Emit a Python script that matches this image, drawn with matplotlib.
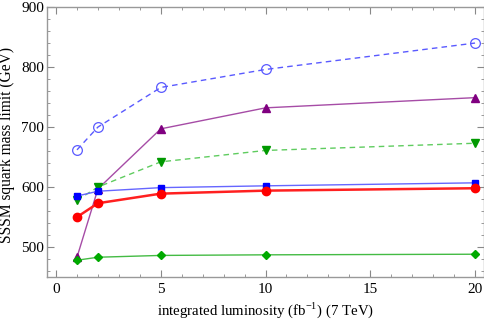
import numpy as np
import matplotlib
matplotlib.use('Agg')
import matplotlib.pyplot as plt
from matplotlib.ticker import MultipleLocator

plt.rcParams['font.family'] = ['Liberation Serif', 'DejaVu Serif']
plt.rcParams['mathtext.fontset'] = 'custom'
plt.rcParams['mathtext.rm'] = 'Liberation Serif'

lumi = [1, 2, 5, 10, 20]
blue_open = [662, 700, 766, 796, 840]
purple_tri = [483, 597, 697, 732, 749]
green_down = [578, 600, 642, 661, 673]
blue_sq = [585, 593, 599, 602, 607]
red_circ = [550, 573, 589, 594, 598]
green_diam = [478, 483, 486, 487, 488]

fig = plt.figure(figsize=(4.85, 3.21), dpi=100)
ax = fig.add_axes([0.097, 0.137, 0.901, 0.841])

ax.plot(lumi, blue_open, '--', color='#5a5aff', lw=1.0, marker='o', ms=7,
        mfc='none', mec='#5a5aff', mew=0.9, dashes=(4, 3))
ax.plot(lumi, purple_tri, '-', color='#a64ca6', lw=1.0, marker='^', ms=5.5,
        mfc='#800080', mec='#800080')
ax.plot(lumi, green_down, '--', color='#5fcc5f', lw=1.0, marker='v', ms=5.5,
        mfc='#009900', mec='#009900', dashes=(4, 3))
ax.plot(lumi, blue_sq, '-', color='#6666ff', lw=1.0, marker='s', ms=5,
        mfc='#0000ff', mec='#0000ff')
ax.plot(lumi, red_circ, '-', color='#ff2020', lw=1.8, marker='o', ms=6,
        mfc='#ff0000', mec='#ff0000')
ax.plot(lumi, green_diam, '-', color='#44bb44', lw=1.0, marker='D', ms=4.5,
        mfc='#00aa00', mec='#00aa00')

ax.set_xlim(-0.43, 20.43)
ax.set_ylim(450, 900)

ax.xaxis.set_major_locator(MultipleLocator(5))
ax.xaxis.set_minor_locator(MultipleLocator(1))
ax.yaxis.set_major_locator(MultipleLocator(100))
ax.yaxis.set_minor_locator(MultipleLocator(20))

for sp in ax.spines.values():
    sp.set_color('#999999')
    sp.set_linewidth(1.0)

ax.tick_params(which='both', direction='in', top=True, right=True,
               color='#888888', labelsize=11)
ax.tick_params(which='major', length=5, width=0.8)
ax.tick_params(axis='y', pad=2)
ax.tick_params(axis='x', pad=4)
ax.tick_params(which='minor', length=2.5, width=0.6)

ax.set_xlabel('integrated luminosity (fb$^{-1}$) (7 TeV)', fontsize=10.7)
ax.set_ylabel('SSSM squark mass limit (GeV)', fontsize=11.2)
ax.xaxis.set_label_coords(0.5, -0.085)
ax.yaxis.set_label_coords(-0.073, 0.49)

plt.savefig('out.png', dpi=100)
plt.close(fig)
